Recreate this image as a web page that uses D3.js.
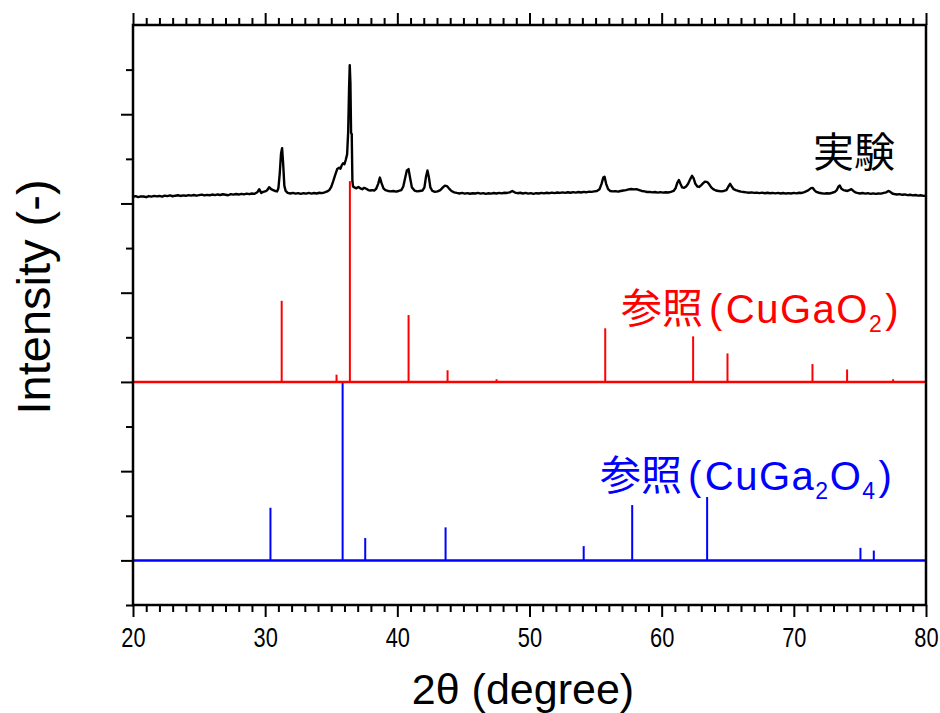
<!DOCTYPE html>
<html>
<head>
<meta charset="utf-8">
<script src="https://cdn.jsdelivr.net/npm/d3@7"></script>
<style>
  body { margin: 0; background: #fff; }
  svg { display: block; }
  .tick text { font-family: 'Liberation Sans Narrow', 'Liberation Sans', sans-serif; }
</style>
</head>
<body>
<svg id="chart" width="940" height="713"></svg>
<script>
// measured XRD pattern, intensity in plot units (baseline ~4.1)
const expPattern = [
  [20.0,4.075],[20.2,4.082],[20.4,4.072],[20.6,4.080],[20.8,4.078],[21.0,4.070],[21.2,4.083],[21.4,4.077],[21.6,4.085],[21.8,4.079],
  [22.0,4.084],[22.2,4.076],[22.4,4.088],[22.6,4.082],[22.8,4.090],[23.0,4.081],[23.2,4.087],[23.4,4.092],[23.6,4.084],[23.8,4.091],
  [24.0,4.086],[24.2,4.094],[24.4,4.088],[24.6,4.095],[24.8,4.087],[25.0,4.093],[25.2,4.099],[25.4,4.090],[25.6,4.096],[25.8,4.092],
  [26.0,4.100],[26.2,4.094],[26.4,4.101],[26.6,4.095],[26.8,4.103],[27.0,4.098],[27.2,4.092],[27.4,4.104],[27.6,4.099],[27.8,4.106],
  [28.0,4.100],[28.2,4.108],[28.4,4.102],[28.6,4.110],[28.8,4.104],[29.0,4.112],[29.2,4.108],[29.4,4.125],[29.55,4.160],[29.7,4.118],
  [29.85,4.130],[30.0,4.135],[30.15,4.148],[30.3,4.182],[30.45,4.160],[30.6,4.150],[30.75,4.140],[30.9,4.135],[31.0,4.170],[31.1,4.330],
  [31.2,4.560],[31.28,4.620],[31.36,4.450],[31.45,4.200],[31.55,4.140],[31.7,4.118],[31.9,4.112],[32.1,4.118],[32.3,4.110],[32.5,4.116],
  [32.7,4.108],[32.9,4.115],[33.1,4.110],[33.3,4.118],[33.5,4.111],[33.7,4.117],[33.9,4.112],[34.1,4.120],[34.3,4.116],[34.5,4.125],
  [34.7,4.135],[34.85,4.150],[35.0,4.185],[35.15,4.250],[35.3,4.320],[35.45,4.385],[35.6,4.400],[35.7,4.390],[35.8,4.430],[35.9,4.450],
  [36.0,4.440],[36.1,4.490],[36.2,4.550],[36.28,4.800],[36.35,5.300],[36.4,5.550],[36.45,5.350],[36.5,4.790],[36.55,4.780],[36.6,4.250],
  [36.65,4.190],[36.75,4.180],[36.9,4.170],[37.05,4.185],[37.2,4.170],[37.35,4.160],[37.5,4.175],[37.65,4.165],[37.8,4.150],[37.95,4.145],
  [38.1,4.150],[38.25,4.145],[38.4,4.165],[38.55,4.220],[38.68,4.290],[38.8,4.230],[38.95,4.170],[39.1,4.150],[39.3,4.140],[39.5,4.135],
  [39.7,4.140],[39.9,4.132],[40.1,4.140],[40.3,4.150],[40.45,4.190],[40.6,4.290],[40.72,4.370],[40.85,4.385],[40.95,4.300],[41.1,4.180],
  [41.3,4.145],[41.5,4.135],[41.7,4.140],[41.9,4.145],[42.05,4.180],[42.17,4.300],[42.28,4.370],[42.38,4.300],[42.5,4.180],[42.65,4.140],
  [42.85,4.130],[43.05,4.135],[43.25,4.150],[43.45,4.180],[43.6,4.200],[43.75,4.195],[43.9,4.170],[44.1,4.140],[44.3,4.125],[44.5,4.118],
  [44.7,4.112],[44.9,4.118],[45.1,4.110],[45.3,4.116],[45.5,4.109],[45.7,4.115],[45.9,4.112],[46.1,4.118],[46.3,4.110],[46.5,4.116],
  [46.7,4.108],[46.9,4.114],[47.1,4.110],[47.3,4.117],[47.5,4.112],[47.7,4.118],[47.9,4.113],[48.1,4.120],[48.3,4.118],[48.5,4.125],
  [48.7,4.140],[48.9,4.122],[49.1,4.115],[49.3,4.120],[49.5,4.112],[49.7,4.118],[49.9,4.110],[50.1,4.116],[50.3,4.108],[50.5,4.115],
  [50.7,4.112],[50.9,4.119],[51.1,4.113],[51.3,4.120],[51.5,4.115],[51.7,4.122],[51.9,4.116],[52.1,4.123],[52.3,4.118],[52.5,4.124],
  [52.7,4.119],[52.9,4.126],[53.1,4.120],[53.3,4.127],[53.5,4.122],[53.7,4.128],[53.9,4.123],[54.1,4.130],[54.3,4.125],[54.5,4.132],
  [54.7,4.130],[54.9,4.135],[55.1,4.140],[55.3,4.160],[55.45,4.220],[55.58,4.290],[55.68,4.300],[55.8,4.220],[55.95,4.160],[56.1,4.140],
  [56.3,4.135],[56.5,4.138],[56.7,4.132],[56.9,4.140],[57.1,4.145],[57.3,4.150],[57.5,4.158],[57.7,4.162],[57.9,4.158],[58.1,4.160],
  [58.3,4.150],[58.5,4.140],[58.7,4.135],[58.9,4.128],[59.1,4.130],[59.3,4.124],[59.5,4.128],[59.7,4.122],[59.9,4.127],[60.1,4.121],
  [60.3,4.126],[60.5,4.123],[60.7,4.130],[60.9,4.140],[61.05,4.170],[61.18,4.230],[61.3,4.262],[61.42,4.220],[61.55,4.180],[61.7,4.175],
  [61.85,4.190],[62.0,4.220],[62.15,4.270],[62.3,4.310],[62.42,4.280],[62.55,4.220],[62.7,4.190],[62.85,4.185],[63.0,4.205],[63.15,4.230],
  [63.3,4.245],[63.45,4.240],[63.6,4.215],[63.75,4.180],[63.9,4.160],[64.1,4.145],[64.3,4.140],[64.5,4.135],[64.7,4.140],[64.9,4.150],
  [65.05,4.190],[65.18,4.220],[65.3,4.190],[65.45,4.160],[65.6,4.150],[65.8,4.140],[66.0,4.132],[66.2,4.128],[66.4,4.124],[66.6,4.120],
  [66.8,4.124],[67.0,4.118],[67.2,4.122],[67.4,4.116],[67.6,4.121],[67.8,4.115],[68.0,4.120],[68.2,4.114],[68.4,4.119],[68.6,4.113],
  [68.8,4.118],[69.0,4.112],[69.2,4.117],[69.4,4.111],[69.6,4.116],[69.8,4.112],[70.0,4.118],[70.2,4.113],[70.4,4.120],[70.6,4.118],
  [70.8,4.128],[71.0,4.140],[71.15,4.155],[71.3,4.172],[71.42,4.175],[71.55,4.150],[71.7,4.130],[71.9,4.120],[72.1,4.114],[72.3,4.110],
  [72.5,4.115],[72.7,4.112],[72.9,4.120],[73.1,4.130],[73.25,4.150],[73.38,4.190],[73.48,4.200],[73.6,4.165],[73.75,4.150],[73.9,4.145],
  [74.05,4.140],[74.2,4.150],[74.35,4.160],[74.5,4.140],[74.65,4.125],[74.8,4.118],[75.0,4.112],[75.2,4.117],[75.4,4.110],[75.6,4.115],
  [75.8,4.108],[76.0,4.113],[76.2,4.107],[76.4,4.112],[76.6,4.110],[76.8,4.118],[77.0,4.125],[77.15,4.140],[77.3,4.130],[77.45,4.112],
  [77.6,4.106],[77.8,4.100],[78.0,4.104],[78.2,4.097],[78.4,4.101],[78.6,4.094],[78.8,4.098],[79.0,4.091],[79.2,4.095],[79.4,4.088],
  [79.6,4.092],[79.8,4.085],[80.0,4.088]
];

// reference CuGaO2: 2theta, relative intensity (%)
const cugao2Angle = [31.25, 35.4, 36.41, 40.85, 43.8, 47.51, 55.73, 62.38, 64.98, 71.41, 74.03, 77.51];
const cugao2Rel   = [40.4, 3.6, 100, 33.3, 5.8, 1.3, 26.7, 22.7, 14.2, 8.9, 6.2, 1.3];

// reference CuGa2O4: 2theta, relative intensity (%)
const cuga2o4Angle = [30.4, 35.86, 37.57, 43.65, 54.1, 57.77, 63.44, 75.04, 76.05];
const cuga2o4Rel   = [29.5, 100, 12.5, 18.5, 8.0, 31.0, 35.5, 7.0, 5.5];

const xMajor = [20, 30, 40, 50, 60, 70, 80];
const yMajor = [0, 1, 2, 3, 4, 5];

const margin = {left: 133, right: 14, top: 25, bottom: 108};
const width = 940, height = 713;

const svg = d3.select('#chart');
const x = d3.scaleLinear().domain([20, 80]).range([margin.left, width - margin.right]);
const y = d3.scaleLinear().domain([-0.5, 6]).range([height - margin.bottom, margin.top]);

const fontStack = "'Liberation Sans', 'Noto Sans CJK JP', sans-serif";
const cjkFont = "'Noto Sans CJK JP', sans-serif";

function sticks(angles, rel, base, full, color) {
  const g = svg.append('g');
  g.selectAll('line.stick')
    .data(angles.map((a, i) => ({a: a, h: rel[i] / 100 * full})))
    .join('line')
      .attr('x1', d => x(d.a)).attr('x2', d => x(d.a))
      .attr('y1', y(base)).attr('y2', d => y(base + d.h))
      .attr('stroke', color).attr('stroke-width', 2);
  g.append('line')
    .attr('x1', x(20)).attr('x2', x(80))
    .attr('y1', y(base)).attr('y2', y(base))
    .attr('stroke', color).attr('stroke-width', 2.5);
}

sticks(cuga2o4Angle, cuga2o4Rel, 0, 2.0, '#0000ff');

svg.append('path')
  .datum(expPattern)
  .attr('fill', 'none')
  .attr('stroke', '#000')
  .attr('stroke-width', 2.4)
  .attr('stroke-linejoin', 'round')
  .attr('d', d3.line().x(d => x(d[0])).y(d => y(d[1])));

sticks(cugao2Angle, cugao2Rel, 2, 2.25, '#ff0000');

// axes
function styleAxis(g) {
  g.select('.domain').remove();
  g.selectAll('.tick line').attr('stroke', '#000').attr('stroke-width', 2);
}
const minorX = d3.range(20, 81, 1).filter(v => v % 10 !== 0);
const minorY = d3.range(-0.5, 6.01, 0.5).filter(v => v % 1 !== 0);

svg.append('g').attr('transform', `translate(0,${y(-0.5)})`)
  .call(d3.axisBottom(x).tickValues(minorX).tickSize(7).tickFormat('')).call(styleAxis);
svg.append('g').attr('transform', `translate(0,${y(-0.5)})`)
  .call(d3.axisBottom(x).tickValues(xMajor).tickSize(12).tickPadding(10).tickFormat(d3.format('d')))
  .call(styleAxis)
  .call(g => g.selectAll('.tick text')
    .attr('font-size', 28).attr('fill', '#000')
    .attr('transform', 'scale(0.78,1)'));

svg.append('g').attr('transform', `translate(0,${y(6)})`)
  .call(d3.axisTop(x).tickValues(minorX).tickSize(7).tickFormat('')).call(styleAxis);
svg.append('g').attr('transform', `translate(0,${y(6)})`)
  .call(d3.axisTop(x).tickValues(xMajor).tickSize(12).tickFormat('')).call(styleAxis);

svg.append('g').attr('transform', `translate(${x(20)},0)`)
  .call(d3.axisLeft(y).tickValues(minorY).tickSize(7).tickFormat('')).call(styleAxis);
svg.append('g').attr('transform', `translate(${x(20)},0)`)
  .call(d3.axisLeft(y).tickValues(yMajor).tickSize(12).tickFormat('')).call(styleAxis);

svg.append('rect')
  .attr('x', x(20)).attr('y', y(6))
  .attr('width', x(80) - x(20)).attr('height', y(-0.5) - y(6))
  .attr('fill', 'none').attr('stroke', '#000').attr('stroke-width', 2.5);

// axis titles
svg.append('text')
  .attr('x', 523).attr('y', 704)
  .attr('text-anchor', 'middle')
  .attr('font-family', fontStack).attr('font-size', 43)
  .text('2θ (degree)');

svg.append('text')
  .attr('transform', `translate(50,${297}) rotate(-90)`)
  .attr('text-anchor', 'middle')
  .attr('font-family', fontStack).attr('font-size', 47)
  .text('Intensity (-)');

// series labels
svg.append('text')
  .attr('x', 895).attr('y', 167)
  .attr('text-anchor', 'end')
  .attr('font-family', cjkFont).attr('font-size', 41)
  .attr('fill', '#000')
  .text('実験');

// parts: text, kind ('cjk' | 'latin' | 'sub'), extra dx
function formulaLabel(parts, xPos, yPos, color) {
  const t = svg.append('text')
    .attr('x', xPos).attr('y', yPos)
    .attr('fill', color);
  let low = false;
  parts.forEach(p => {
    const s = t.append('tspan').text(p.s);
    if (p.kind === 'cjk') s.attr('font-family', cjkFont).attr('font-size', 41);
    else s.attr('font-family', fontStack).attr('font-size', p.kind === 'sub' ? 23 : 40)
      .attr('letter-spacing', 1.5);
    if (p.kind === 'sub' && !low) { s.attr('dy', 9); low = true; }
    else if (p.kind !== 'sub' && low) { s.attr('dy', -9); low = false; }
    if (p.dx) s.attr('dx', p.dx);
  });
}
formulaLabel([
  {s: '参照', kind: 'cjk'}, {s: '(', kind: 'latin', dx: 6}, {s: 'CuGaO', kind: 'latin', dx: 2},
  {s: '2', kind: 'sub'}, {s: ')', kind: 'latin', dx: 2}
], 621, 323, '#ff0000');
formulaLabel([
  {s: '参照', kind: 'cjk'}, {s: '(', kind: 'latin', dx: 6}, {s: 'CuGa', kind: 'latin', dx: 2},
  {s: '2', kind: 'sub'}, {s: 'O', kind: 'latin'}, {s: '4', kind: 'sub'}, {s: ')', kind: 'latin', dx: 2}
], 600, 490, '#0000ff');
</script>
</body>
</html>
